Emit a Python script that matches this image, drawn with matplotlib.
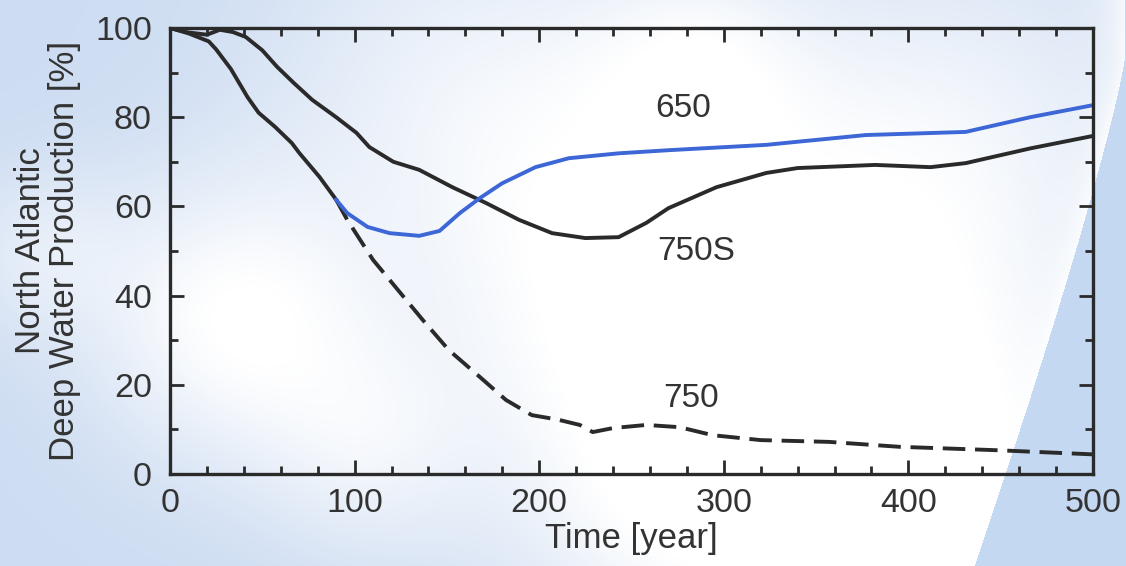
import numpy as np
import matplotlib
matplotlib.use("Agg")
import matplotlib.pyplot as plt
from matplotlib.ticker import MultipleLocator

plt.rcParams['font.family'] = ['Liberation Sans', 'DejaVu Sans']

# run 750: solid until branching point, dashed afterwards
t_750 = [0, 10, 21, 25, 33, 42, 48, 57, 66, 70, 81, 90, 96, 110, 122, 137, 151, 168,
         182, 196, 210, 222, 229, 240, 258, 276, 294, 320, 357, 395, 450, 500]
y_750 = [100, 98.8, 97, 95.2, 90.8, 84.5, 81, 77.8, 74.2, 72, 66.6, 61.5, 57, 48, 42,
         34.5, 27.8, 21.7, 16.6, 13.2, 12.2, 11, 9.4, 10.3, 11, 10.5, 8.7, 7.6, 7.2,
         6.1, 5.3, 4.4]
split_750 = 90

# run 750S
t_750s = [0, 10, 20, 27, 34, 41, 50, 58, 67, 77, 90, 101, 108, 121, 135, 153, 171, 189,
          207, 225, 243, 258, 270, 296, 323, 340, 382, 412, 431, 466, 500]
y_750s = [100, 99, 98.5, 99.6, 99.1, 98, 95, 91.3, 87.7, 83.9, 80, 76.5, 73.3, 70, 68.2,
          64.3, 60.8, 57, 54, 52.9, 53.1, 56.3, 59.6, 64.3, 67.5, 68.6, 69.3, 68.8, 69.7,
          73, 75.8]

# run 650
t_650 = [90, 96, 107, 119, 135, 146, 157, 168, 180, 198, 216, 243, 270, 323, 340, 377,
         431, 466, 500]
y_650 = [61.5, 58.5, 55.4, 54, 53.4, 54.5, 58.5, 61.9, 65.2, 68.8, 70.8, 71.9, 72.6,
         73.8, 74.5, 76, 76.7, 80, 82.7]

labels = ["650", "750S", "750"]
label_x = [278, 285, 282]
label_y = [82, 50, 17]

W, H = 1126, 566
fig = plt.figure(figsize=(W / 100, H / 100), dpi=100)

# soft sky-like backdrop
bg = fig.add_axes([0, 0, 1, 1], zorder=-10)
xx, yy = np.meshgrid(np.arange(W), np.arange(H))
base = np.array([0.77, 0.84, 0.94])
white = np.zeros((H, W))
for cx, cy, r, a in [(230, 320, 100, 0.8), (480, 100, 150, 0.55), (820, 380, 190, 0.75),
                     (950, 130, 140, 0.45), (620, 300, 130, 0.45), (650, 520, 110, 0.35),
                     (370, 450, 80, 0.45), (900, 500, 120, 0.65), (40, 250, 60, 0.35),
                     (700, 60, 80, 0.45)]:
    white += a * np.exp(-((xx - cx) ** 2 + (yy - cy) ** 2) / (2 * r ** 2))
white = np.clip(white + 0.15, 0, 1)
img = base[None, None, :] * (1 - white[..., None]) + white[..., None]
limb = 1124 - 150 * ((yy - 60) / 506.0).clip(0, 1) ** 1.15
d = limb - xx
glow = np.exp(-np.clip(d, 0, None) / 25.0) * (d >= 0)
img = img * (1 - glow[..., None] * 0.8) + glow[..., None] * 0.8
outside = d < 0
img[outside] = np.array([0.77, 0.85, 0.95])
img = np.clip(img, 0, 1)
bg.imshow(img, aspect='auto', extent=[0, W, H, 0])
bg.axis('off')

ax = fig.add_axes([170 / W, 1 - 474 / H, (1093 - 170) / W, (474 - 28) / H])
ax.patch.set_alpha(0)

dark = '#2a2a2a'
i = t_750.index(split_750)
ax.plot(t_750[:i + 1], y_750[:i + 1], color=dark, lw=2.8)
ax.plot(t_750[i:], y_750[i:], color=dark, lw=2.8, dashes=(5.8, 2.5))
ax.plot(t_750s, y_750s, color=dark, lw=2.8)
ax.plot(t_650, y_650, color='#3d66d6', lw=2.8)

for s, x, y in zip(labels, label_x, label_y):
    ax.text(x, y, s, fontsize=24, color='#333333', ha='center', va='center')

ax.set_xlim(0, 500)
ax.set_ylim(0, 100)
ax.xaxis.set_major_locator(MultipleLocator(100))
ax.xaxis.set_minor_locator(MultipleLocator(20))
ax.yaxis.set_major_locator(MultipleLocator(20))
ax.yaxis.set_minor_locator(MultipleLocator(10))
ax.tick_params(which='both', direction='in', top=True, right=True, color=dark, width=2)
ax.tick_params(which='major', length=10, labelsize=24.5, labelcolor='#333333')
ax.tick_params(axis='y', which='major', pad=13)
ax.tick_params(axis='x', which='major', pad=10)
ax.tick_params(which='minor', length=6)
for sp in ax.spines.values():
    sp.set_linewidth(2.4)
    sp.set_color(dark)

ax.set_xlabel('Time [year]', fontsize=25, color='#333333', labelpad=2)
ax.set_ylabel('North Atlantic\nDeep Water Production [%]', fontsize=25,
              color='#333333', labelpad=10, linespacing=1.05)

fig.savefig('out.png', dpi=100)
